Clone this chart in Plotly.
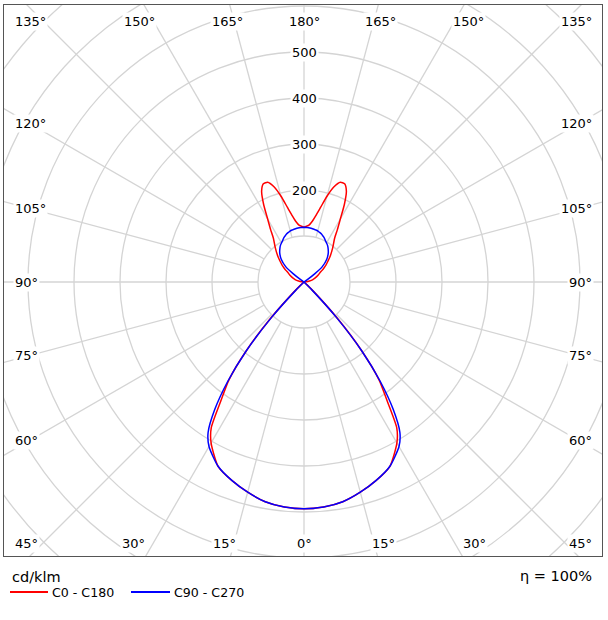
import numpy as np
import plotly.graph_objects as go

# ---- data ----
gamma = [0, 5, 10, 15, 20, 25, 30, 32.5, 35, 37.5, 40, 42.5, 45, 47.5, 50,
         60, 70, 80, 90, 95, 100, 105, 110, 115, 120, 122.5,
         125, 127.5, 130, 135, 140, 145, 147.5, 150, 152.5, 155, 157.5, 160,
         162.5, 165, 167.5, 170, 172.5, 175, 180]

c0_c180 = [493, 491, 485, 473, 459, 442, 404, 375, 315, 268, 195, 110, 35, 10, 0,
           0, 0, 0, 0, 5, 12, 20, 26, 33, 40, 46,
           53, 60, 66, 81, 97, 116, 135, 158, 190, 218, 231, 231,
           217, 193, 166, 146, 132, 124, 119]

c90_c270 = [493, 491, 485, 473, 459, 442, 413, 388, 338, 272, 195, 105, 25, 0, 0,
            0, 0, 0, 0, 0, 0, 0, 0, 0, 0, 0,
            8, 30, 52, 70, 82, 91, 95, 98, 101, 105, 108, 111,
            113, 115, 116, 117, 118, 118.5, 119]

ring_values = [100, 200, 300, 400, 500, 600, 700, 800, 900]
ring_labels = [200, 300, 400, 500]
angle_ticks = list(range(0, 181, 15))
series_names = ["C0 - C180", "C90 - C270"]
series_colors = ["#ff0000", "#0000ff"]
unit_text = "cd/klm"
eta_text = "η = 100%"

# ---- geometry ----
W, H = 608, 620
L, R, T, B = 4, 6, 5, 64
PW, PH = W - L - R, H - T - B
CX, CY = 304, 282          # pixel centre of the diagram
K = 0.46                   # pixels per cd/klm


def px2x(px):
    return (px - CX) / K


def px2y(py):
    return (CY - py) / K


def ppx(px):
    return (px - L) / PW


def ppy(py):
    return (H - B - py) / PH


xr = [px2x(L), px2x(W - R)]
yr = [px2y(H - B), px2y(T)]

g = np.radians(np.array(gamma))


def curve(vals_right, vals_left):
    vr = np.array(vals_right, dtype=float)
    vl = np.array(vals_left, dtype=float)
    x = np.concatenate([vr * np.sin(g), -(vl * np.sin(g))[::-1]])
    y = np.concatenate([-vr * np.cos(g), (-vl * np.cos(g))[::-1]])
    return x, y


fig = go.Figure()

for name, vals, col in zip(series_names, [c0_c180, c90_c270], series_colors):
    x, y = curve(vals, vals)
    fig.add_trace(go.Scatter(x=x, y=y, mode="lines", name=name, showlegend=False,
                             line=dict(color=col, width=1.5, shape="spline", smoothing=0.6),
                             hoverinfo="skip"))

grid_col = "#d4d4d4"
shapes = []
for r in ring_values:
    shapes.append(dict(type="circle", xref="x", yref="y", x0=-r, x1=r, y0=-r, y1=r,
                       line=dict(color=grid_col, width=1.3), layer="below"))
for a in range(0, 360, 15):
    t = np.radians(a)
    r0, r1 = ring_values[0], 2000
    shapes.append(dict(type="line", xref="x", yref="y",
                       x0=r0 * np.sin(t), y0=-r0 * np.cos(t),
                       x1=r1 * np.sin(t), y1=-r1 * np.cos(t),
                       line=dict(color=grid_col, width=1.3), layer="below"))

FONT = "DejaVu Sans"
ann = []
lab_font = dict(family=FONT, size=13, color="#000000")


def add_label(text, xpx, ypx, xanchor="center"):
    ann.append(dict(text=text, x=px2x(xpx), y=px2y(ypx), xref="x", yref="y",
                    showarrow=False, xanchor=xanchor, yanchor="middle",
                    bgcolor="white", borderpad=1, font=lab_font))


for v in ring_labels:
    ann.append(dict(text=str(v), x=0, y=v, xref="x", yref="y", showarrow=False,
                    xanchor="center", yanchor="middle", bgcolor="white",
                    borderpad=1, font=lab_font))

for a in angle_ticks:
    txt = f"{a}°"
    for side in (1, -1):
        if a == 0 or a == 180:
            if side == -1:
                continue
        if a in (150, 165, 180):
            add_label(txt, CX + side * 285 * np.tan(np.radians(180 - a)), 21)
        elif a == 135:
            add_label(txt, 13 if side < 0 else 594, 21, "left" if side < 0 else "right")
        elif a in (0, 15, 30):
            add_label(txt, CX + side * 296 * np.tan(np.radians(a)), 543)
        elif a == 45:
            add_label(txt, 13 if side < 0 else 594, 543, "left" if side < 0 else "right")
        else:
            ypx = CY + 274 * np.tan(np.radians(90 - a))
            add_label(txt, 13 if side < 0 else 594, ypx, "left" if side < 0 else "right")

ann.append(dict(text=unit_text, x=ppx(10), y=ppy(577), xref="paper", yref="paper",
                showarrow=False, xanchor="left", yanchor="middle",
                font=dict(family=FONT, size=14.5, color="#000000")))
ann.append(dict(text=eta_text, x=ppx(594), y=ppy(576), xref="paper", yref="paper",
                showarrow=False, xanchor="right", yanchor="middle",
                font=dict(family=FONT, size=14.5, color="#000000")))

# legend drawn as line samples + text
leg_items = [(10, 48, 50), (131, 170, 172)]
for (xa, xb, xt), name, col in zip(leg_items, series_names, series_colors):
    shapes.append(dict(type="line", xref="paper", yref="paper",
                       x0=ppx(xa), x1=ppx(xb), y0=ppy(592), y1=ppy(592),
                       line=dict(color=col, width=2)))
    ann.append(dict(text=name, x=ppx(xt), y=ppy(592), xref="paper", yref="paper",
                    showarrow=False, xanchor="left", yanchor="middle",
                    font=dict(family=FONT, size=12.6, color="#000000")))

fig.update_layout(
    width=W, height=H,
    margin=dict(l=L, r=R, t=T, b=B),
    paper_bgcolor="white", plot_bgcolor="white",
    xaxis=dict(range=xr, showgrid=False, zeroline=False, showticklabels=False,
               ticks="", showline=True, mirror=True, linecolor="#555555", linewidth=1,
               fixedrange=True),
    yaxis=dict(range=yr, showgrid=False, zeroline=False, showticklabels=False,
               ticks="", showline=True, mirror=True, linecolor="#555555", linewidth=1,
               fixedrange=True),
    shapes=shapes,
    annotations=ann,
    showlegend=False,
)

fig.write_html("out.html")
